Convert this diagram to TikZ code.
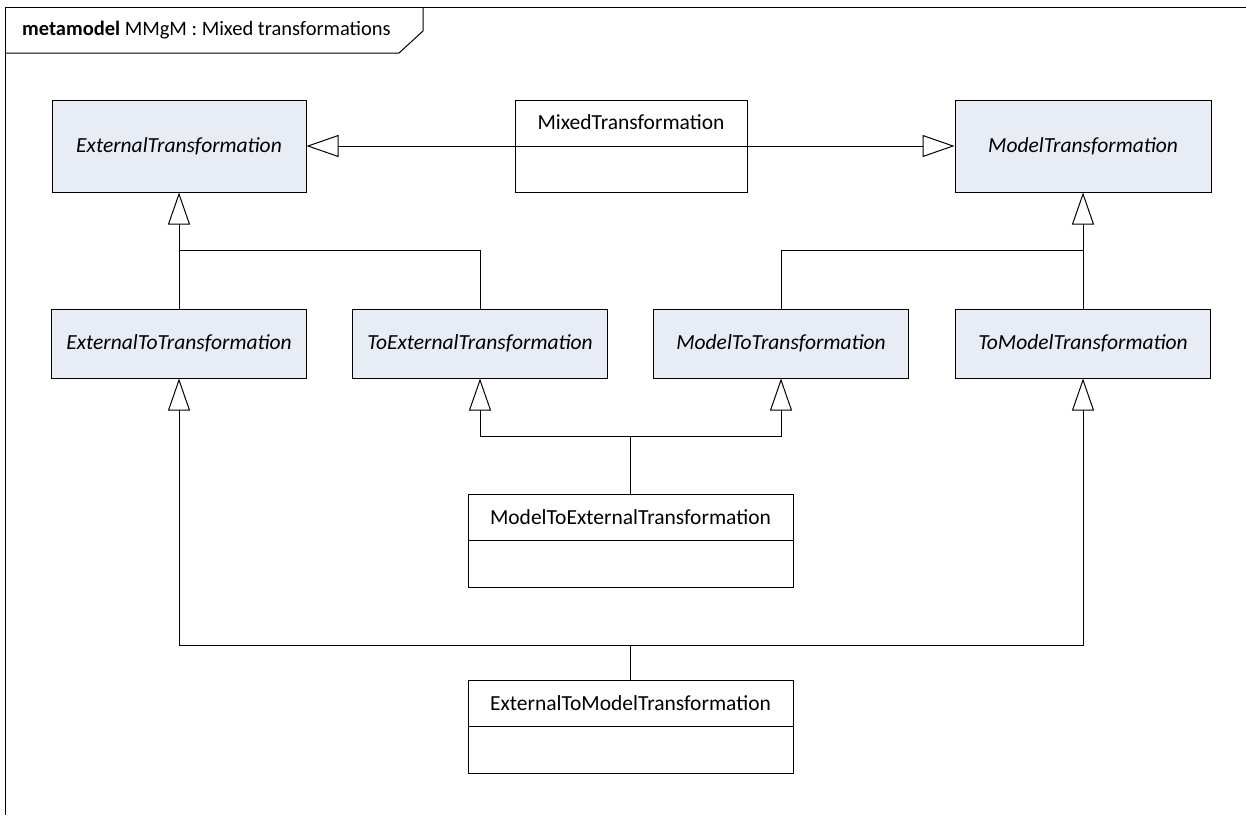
\documentclass[tikz,border=0pt]{standalone}
\usepackage{fontspec}
\setmainfont{Carlito}
\usetikzlibrary{arrows.meta}
\definecolor{absfill}{RGB}{232,236,244}
\tikzset{
  cls/.style={draw=black, line width=1pt, fill=white, inner sep=0pt, font=\fontsize{21.5}{24}\selectfont},
  abscls/.style={cls, fill=absfill, font=\fontsize{21.5}{24}\selectfont\itshape},
  gen/.style={draw=black, line width=1pt, -{Triangle[open, length=32pt, width=22pt, fill=white]}},
  link/.style={draw=black, line width=1pt},
  clsname/.style={inner sep=0pt, font=\fontsize{21.5}{24}\selectfont}
}
\begin{document}
\begin{tikzpicture}[x=1pt, y=-1pt]
\useasboundingbox (0,0) rectangle (1246,815);
\fill[white] (0,0) rectangle (1246,815);

% diagram frame and its header tab
\draw[line width=1pt] (5,815) -- (5,7) -- (1246,7);
\draw[line width=1pt] (5,53) -- (399,53) -- (423,31) -- (423,7);
\node[anchor=west, inner sep=0pt, font=\fontsize{20.5}{24}\selectfont] (hdr) at (22,30)
  {\textbf{metamodel} MMgM : Mixed transformations};

% abstract classes
\node[abscls, minimum width=254pt, minimum height=92pt] (ET) at (179,146) {ExternalTransformation};
\node[abscls, minimum width=256pt, minimum height=92pt] (MT) at (1083,146) {ModelTransformation};
\node[abscls, minimum width=255pt, minimum height=69pt] (ETT) at (179,343.5) {ExternalToTransformation};
\node[abscls, minimum width=255pt, minimum height=69pt] (TET) at (480,343.5) {ToExternalTransformation};
\node[abscls, minimum width=255pt, minimum height=69pt] (MTT) at (781,343.5) {ModelToTransformation};
\node[abscls, minimum width=255pt, minimum height=69pt] (TMT) at (1083,343.5) {ToModelTransformation};

% concrete classes with an empty attribute compartment
\node[cls, minimum width=232pt, minimum height=92pt] (MX) at (631,146) {};
\draw[link] (MX.west) -- (MX.east);
\node[clsname] (MXn) at ([yshift=-23pt]MX.north) {MixedTransformation};

\node[cls, minimum width=325pt, minimum height=93pt] (MTE) at (630.5,540.5) {};
\draw[link] (MTE.west) -- (MTE.east);
\node[clsname] (MTEn) at ([yshift=-23.5pt]MTE.north) {ModelToExternalTransformation};

\node[cls, minimum width=325pt, minimum height=93pt] (ETM) at (630.5,726.5) {};
\draw[link] (ETM.west) -- (ETM.east);
\node[clsname] (ETMn) at ([yshift=-23.5pt]ETM.north) {ExternalToModelTransformation};

% bus points of the shared generalization trees
\coordinate (busL) at (179,250);
\coordinate (busR) at (1083,250);
\coordinate (busM) at (630.5,436);
\coordinate (busB) at (630.5,645);

% MixedTransformation specializes both roots
\draw[gen] (MX.west) -- (ET.east);
\draw[gen] (MX.east) -- (MT.west);

% second row to the roots
\draw[gen] (ETT.north) -- (ET.south);
\draw[link] (TET.north) |- (busL);
\draw[gen] (TMT.north) -- (MT.south);
\draw[link] (MTT.north) |- (busR);

% ModelToExternalTransformation
\draw[link] (MTE.north) -- (busM);
\draw[gen] (busM) -| (TET.south);
\draw[gen] (busM) -| (MTT.south);

% ExternalToModelTransformation
\draw[link] (ETM.north) -- (busB);
\draw[gen] (busB) -| (ETT.south);
\draw[gen] (busB) -| (TMT.south);
\end{tikzpicture}
\end{document}
